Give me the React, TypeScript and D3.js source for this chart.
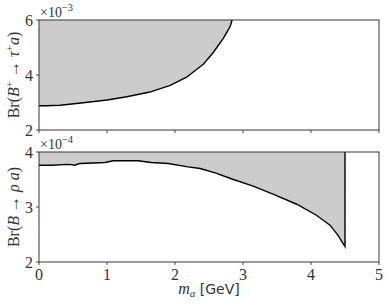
import React from 'react';
import * as d3 from 'd3';

// upper panel: Br(B+ -> tau+ a), units of 1e-3
const tauMass = [0, 0.1, 0.31, 0.65, 1.0, 1.29, 1.63, 1.93, 2.17, 2.42, 2.56, 2.71, 2.81, 2.84];
const tauBr = [2.88, 2.88, 2.9, 2.99, 3.09, 3.21, 3.38, 3.62, 3.92, 4.4, 4.81, 5.33, 5.76, 6.0];

// lower panel: Br(B -> rho a), units of 1e-4
const rhoMass = [0, 0.2, 0.41, 0.48, 0.52, 0.6, 0.8, 0.97, 1.09, 1.3, 1.46, 1.65, 1.9, 2.19, 2.37, 2.59, 2.86, 3.15, 3.45, 3.79, 4.08, 4.28, 4.4, 4.5];
const rhoBr = [3.76, 3.76, 3.775, 3.77, 3.76, 3.79, 3.8, 3.81, 3.84, 3.84, 3.84, 3.81, 3.79, 3.73, 3.7, 3.62, 3.5, 3.38, 3.23, 3.05, 2.85, 2.67, 2.48, 2.28];

const xTicks = [0, 1, 2, 3, 4, 5];
const tauTicks = [2, 4, 6];
const rhoTicks = [2, 3, 4];

const serif = 'Liberation Serif, DejaVu Serif, serif';
const sans = 'DejaVu Sans, sans-serif';

const W = 390;
const H = 308;
const left = 39;
const right = 379;

type Pt = { m: number; v: number };

const Panel = ({
  pts,
  domain,
  ticks,
  top,
  bottom,
  exponent,
  showX,
  closeUp,
  label,
}: {
  pts: Pt[];
  domain: [number, number];
  ticks: number[];
  top: number;
  bottom: number;
  exponent: string;
  showX: boolean;
  closeUp: boolean;
  label: React.ReactNode;
}) => {
  const x = d3.scaleLinear().domain([0, 5]).range([left, right]);
  const y = d3.scaleLinear().domain(domain).range([bottom, top]);
  const area = d3
    .area<Pt>()
    .x((d) => x(d.m))
    .y0(y(domain[1]))
    .y1((d) => y(d.v));
  const line = d3
    .line<Pt>()
    .x((d) => x(d.m))
    .y((d) => y(d.v));
  const last = pts[pts.length - 1];
  let linePath = line(pts) || '';
  if (closeUp) linePath += `L${x(last.m)},${y(domain[1])}`;
  const midY = (top + bottom) / 2;

  return (
    <g>
      <path d={area(pts) || ''} fill="#cccccc" stroke="none" />
      <path d={linePath} fill="none" stroke="#000" strokeWidth={1.4} />
      <rect
        x={left}
        y={top}
        width={right - left}
        height={bottom - top}
        fill="none"
        stroke="#222"
        strokeWidth={0.9}
      />
      {xTicks.map((t) => (
        <g key={`x${t}`}>
          <line x1={x(t)} x2={x(t)} y1={bottom} y2={bottom + 3} stroke="#222" strokeWidth={0.8} />
          {showX && (
            <text x={x(t)} y={bottom + 18} textAnchor="middle" fontFamily={serif} fontSize={16} fill="#333">
              {t}
            </text>
          )}
        </g>
      ))}
      {ticks.map((t) => (
        <g key={`y${t}`}>
          <line x1={left - 3} x2={left} y1={y(t)} y2={y(t)} stroke="#222" strokeWidth={0.8} />
          <text x={left - 6} y={y(t) + 5.5} textAnchor="end" fontFamily={serif} fontSize={16} fill="#333">
            {t}
          </text>
        </g>
      ))}
      <text x={left + 1} y={top - 3} fontFamily={serif} fontSize={14} fill="#333">
        ×10
        <tspan dy={-6} fontSize={10.5}>
          {exponent}
        </tspan>
      </text>
      <text
        transform={`translate(19,${midY}) rotate(-90)`}
        textAnchor="middle"
        fontFamily={serif}
        fontSize={16}
        fill="#333"
      >
        {label}
      </text>
    </g>
  );
};

const App = () => {
  const tauPts = tauMass.map((m, i) => ({ m, v: tauBr[i] }));
  const rhoPts = rhoMass.map((m, i) => ({ m, v: rhoBr[i] }));
  return (
    <svg width={W} height={H} style={{ position: 'absolute', left: 0, top: 0, background: '#fff' }}>
      <Panel
        pts={tauPts}
        domain={[2, 6]}
        ticks={tauTicks}
        top={20}
        bottom={130}
        exponent="−3"
        showX={false}
        closeUp={false}
        label={
          <>
            Br(<tspan fontStyle="italic">B</tspan>
            <tspan dy={-6} fontSize={11}>+</tspan>
            <tspan dy={6}> → </tspan>
            <tspan fontStyle="italic">τ</tspan>
            <tspan dy={-6} fontSize={11}>+</tspan>
            <tspan dy={6} fontStyle="italic">a</tspan>)
          </>
        }
      />
      <Panel
        pts={rhoPts}
        domain={[2, 4]}
        ticks={rhoTicks}
        top={152}
        bottom={262}
        exponent="−4"
        showX
        closeUp
        label={
          <>
            Br(<tspan fontStyle="italic">B</tspan> → <tspan fontStyle="italic">ρ a</tspan>)
          </>
        }
      />
      <text x={(left + right) / 2} y={294} textAnchor="middle" fill="#333">
        <tspan fontFamily={serif} fontStyle="italic" fontSize={16}>m</tspan>
        <tspan fontFamily={serif} fontStyle="italic" fontSize={11} dy={3}>a</tspan>
        <tspan fontFamily={sans} fontSize={14} dy={-3}> [GeV]</tspan>
      </text>
    </svg>
  );
};

export default App;
